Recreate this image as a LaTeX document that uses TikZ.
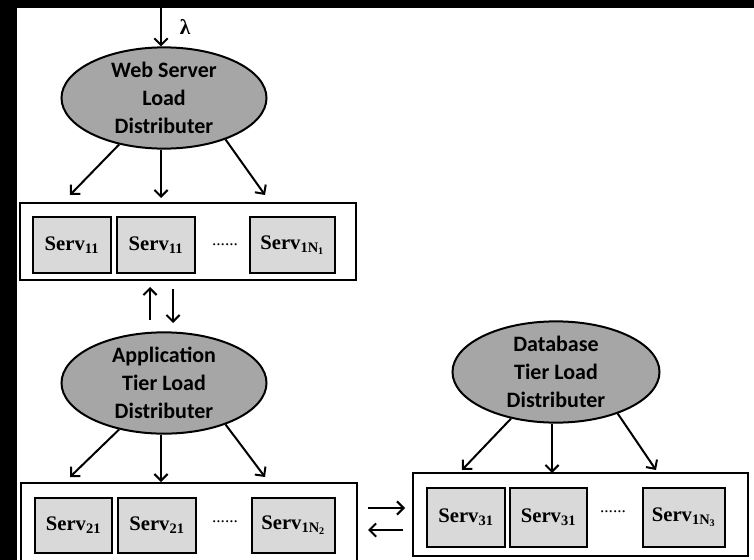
\documentclass[tikz,border=0pt]{standalone}
\usepackage{fontspec}
\setmainfont{Liberation Serif}
\newfontfamily\calib{Carlito}
\usetikzlibrary{arrows.meta,shapes.geometric}
\definecolor{distgray}{RGB}{166,166,166}
\definecolor{servgray}{RGB}{217,217,217}

\begin{document}
\begin{tikzpicture}[x=0.75pt,y=-0.75pt,line width=1.5pt,>={Straight Barb[length=5pt,width=10pt]},
  ldist/.style={ellipse,draw,fill=distgray,inner sep=0pt,align=center,
    font=\calib\bfseries\fontsize{16.5}{21}\selectfont},
  serv/.style={draw,fill=servgray,minimum height=42pt,inner sep=0pt,
    font=\bfseries\fontsize{15.5}{18}\selectfont},
  tier/.style={draw,fill=white,inner sep=0pt},
  dots/.style={inner sep=0pt,font=\fontsize{13}{15}\selectfont}]
  \useasboundingbox (0,0) rectangle (754,560);
  \clip (0,0) rectangle (754,560);
  \fill[white] (0,0) rectangle (754,560);
  \fill[black] (0,0) rectangle (754,8);
  \fill[black] (0,0) rectangle (17,560);

  % load distributers
  \node[ldist,minimum width=153.75pt,minimum height=73.5pt] (ws) at (164,98)
    {Web Server\\Load\\Distributer};
  \node[ldist,minimum width=153.75pt,minimum height=72pt] (at) at (164,383)
    {Application\\Tier Load\\Distributer};
  \node[ldist,minimum width=155.25pt,minimum height=72pt] (db) at (556,372)
    {Database\\Tier Load\\Distributer};

  % server tiers
  \node[tier,minimum width=252pt,minimum height=57.75pt] (t1) at (188,241.5) {};
  \node[serv,minimum width=58.5pt] (s11) at (72,245) {Serv\textsubscript{11}};
  \node[serv,minimum width=58.5pt] (s12) at (156,245) {Serv\textsubscript{11}};
  \node[dots] (d1) at (225,245) {......};
  \node[serv,minimum width=63.75pt] (s1n) at (292.5,245) {Serv\textsubscript{1N\textsubscript{1}}};

  \node[tier,minimum width=252pt,minimum height=63.75pt] (t2) at (189,525.5) {};
  \node[serv,minimum width=57.75pt,minimum height=41.25pt] (s21) at (73.5,525.5) {Serv\textsubscript{21}};
  \node[serv,minimum width=58.5pt,minimum height=41.25pt] (s22) at (157,525.5) {Serv\textsubscript{21}};
  \node[dots] (d2) at (225,522) {......};
  \node[serv,minimum width=62.25pt,minimum height=41.25pt] (s2n) at (293.5,525.5) {Serv\textsubscript{1N\textsubscript{2}}};

  \node[tier,minimum width=251.25pt,minimum height=62.25pt] (t3) at (580.5,514.5) {};
  \node[serv,minimum width=58.5pt,minimum height=44.25pt] (s31) at (466,517.5) {Serv\textsubscript{31}};
  \node[serv,minimum width=57.75pt,minimum height=44.25pt] (s32) at (548.5,517.5) {Serv\textsubscript{31}};
  \node[dots] (d3) at (613,512) {......};
  \node[serv,minimum width=61.5pt,minimum height=44.25pt] (s3n) at (684,517.5) {Serv\textsubscript{1N\textsubscript{3}}};

  % arrow ends
  \coordinate (in) at (161,8);
  \coordinate (w1) at (70,195);
  \coordinate (w2) at (161,198);
  \coordinate (w3) at (265,195);
  \coordinate (a1) at (70,477);
  \coordinate (a2) at (161,482);
  \coordinate (a3) at (265,477);
  \coordinate (b1) at (462,470);
  \coordinate (b2) at (552,473);
  \coordinate (b3) at (656,470);
  \coordinate (up) at (150,287);
  \coordinate (upf) at (150,320);
  \coordinate (dn) at (173,323);
  \coordinate (dnf) at (173,289);
  \coordinate (rt) at (405,508);
  \coordinate (rtf) at (368,508);
  \coordinate (lt) at (368,530);
  \coordinate (ltf) at (403,530);

  \draw[->] (in) -- (in |- ws.north) node[midway,right=10pt,font=\bfseries\fontsize{16}{18}\selectfont] {λ};
  \draw[->] (ws.226) -- (w1);
  \draw[->] (ws.south -| w2) -- (w2);
  \draw[->] (ws.-34) -- (w3);
  \draw[->] (at.226) -- (a1);
  \draw[->] (at.south -| a2) -- (a2);
  \draw[->] (at.-34) -- (a3);
  \draw[->] (db.226) -- (b1);
  \draw[->] (db.south -| b2) -- (b2);
  \draw[->] (db.-34) -- (b3);
  \draw[->] (upf) -- (up);
  \draw[->] (dnf) -- (dn);
  \draw[->] (rtf) -- (rt);
  \draw[->] (ltf) -- (lt);
\end{tikzpicture}
\end{document}
